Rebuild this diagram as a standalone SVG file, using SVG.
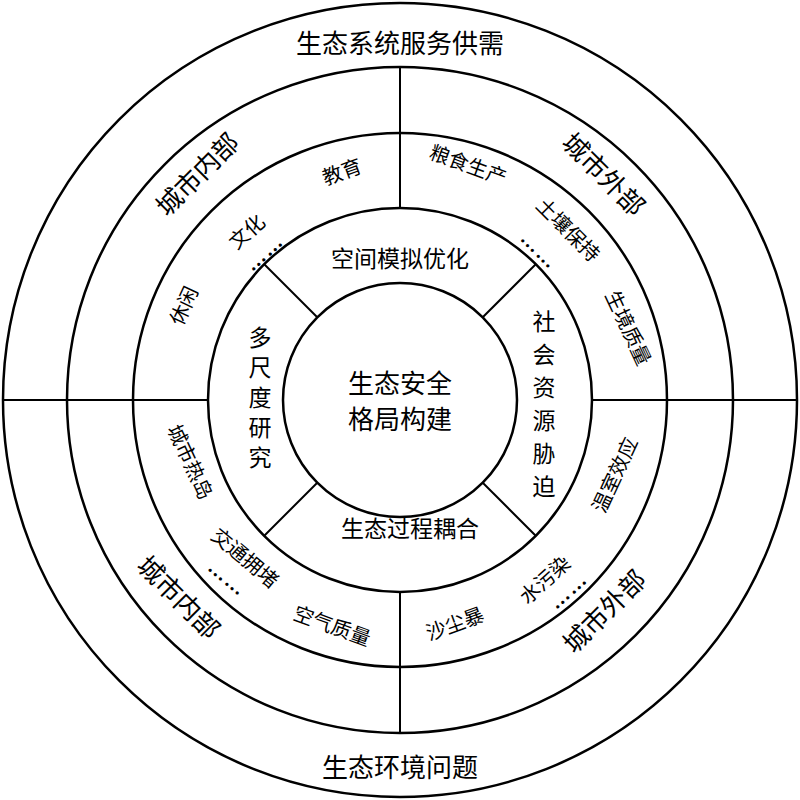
<svg xmlns="http://www.w3.org/2000/svg" width="800" height="800" viewBox="0 0 800 800">
<style>
text{font-family:"Liberation Serif","Noto Sans CJK SC",serif;fill:#000;text-anchor:middle;dominant-baseline:central}
.c{fill:none;stroke:#000;stroke-width:2.5}
.l{stroke:#000;stroke-width:2}
.b{font-size:26px}.m{font-size:23px}.s{font-size:20px}
.d{font-size:20px;font-weight:bold;letter-spacing:2px}
</style>
<rect width="800" height="800" fill="#fff"/>
<g id="rings">
<circle class="c" cx="400" cy="400" r="397"/>
<circle class="c" cx="400" cy="400" r="333"/>
<circle class="c" cx="400" cy="400" r="267"/>
<circle class="c" cx="400" cy="400" r="192"/>
<circle class="c" cx="400" cy="400" r="117"/>
</g>
<g id="connectors">
<line class="l" x1="400" y1="67" x2="400" y2="208"/>
<line class="l" x1="400" y1="592" x2="400" y2="733"/>
<line class="l" x1="3" y1="400" x2="208" y2="400"/>
<line class="l" x1="592" y1="400" x2="797" y2="400"/>
<line class="l" x1="317" y1="317" x2="264" y2="264"/>
<line class="l" x1="483" y1="317" x2="536" y2="264"/>
<line class="l" x1="483" y1="483" x2="536" y2="536"/>
<line class="l" x1="317" y1="483" x2="264" y2="536"/>
</g>
<g id="center"><text class="b" x="400" y="384">生态安全</text><text class="b" x="400" y="420">格局构建</text></g>
<g id="ring4">
<text class="m" x="400" y="259">空间模拟优化</text>
<text class="m" x="410" y="529">生态过程耦合</text>
<text class="m" x="260" y="338">多</text><text class="m" x="260" y="368">尺</text><text class="m" x="260" y="398">度</text><text class="m" x="260" y="428">研</text><text class="m" x="260" y="458">究</text>
<text class="m" x="544" y="322">社</text><text class="m" x="544" y="355">会</text><text class="m" x="544" y="388">资</text><text class="m" x="544" y="421">源</text><text class="m" x="544" y="454">胁</text><text class="m" x="544" y="487">迫</text>
</g>
<g id="outer">
<text class="b" x="400" y="44">生态系统服务供需</text>
<text class="b" x="400" y="768">生态环境问题</text>
<text class="b" transform="translate(198,175) rotate(-45)">城市内部</text>
<text class="b" transform="translate(603,175) rotate(45)">城市外部</text>
<text class="b" transform="translate(178,598) rotate(45)">城市内部</text>
<text class="b" transform="translate(605,612) rotate(-45)">城市外部</text>
</g>
<g id="ring3">
<text class="s" transform="translate(342,172) rotate(-20)">教育</text>
<text class="s" transform="translate(247,232) rotate(-42)">文化</text>
<text class="d" transform="translate(264,252) rotate(-42)">……</text>
<text class="s" transform="translate(184,306) rotate(-65)">休闲</text>
<text class="s" transform="translate(468,165) rotate(20)">粮食生产</text>
<text class="s" transform="translate(568,230) rotate(45)">土壤保持</text>
<text class="d" transform="translate(540,250) rotate(45)">……</text>
<text class="s" transform="translate(628,328) rotate(65)">生境质量</text>
<text class="s" transform="translate(190,462) rotate(65)">城市热岛</text>
<text class="s" transform="translate(245,558) rotate(40)">交通拥堵</text>
<text class="d" transform="translate(228,578) rotate(40)">……</text>
<text class="s" transform="translate(332,626) rotate(20)">空气质量</text>
<text class="s" transform="translate(455,624) rotate(-20)">沙尘暴</text>
<text class="s" transform="translate(545,580) rotate(-42)">水污染</text>
<text class="d" transform="translate(568,590) rotate(-42)">……</text>
<text class="s" transform="translate(615,475) rotate(-65)">温室效应</text>
</g>
</svg>
